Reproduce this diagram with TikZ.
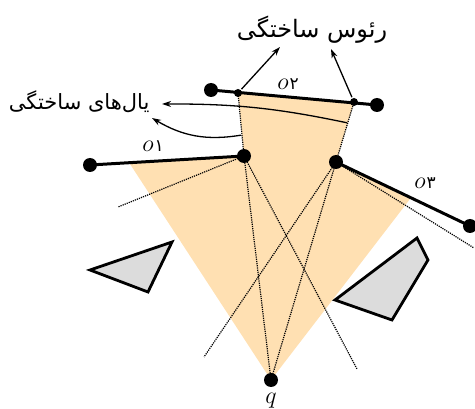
\RequirePackage{fix-cm}
\documentclass[tikz,border=0pt]{standalone}
\usepackage{fontspec}
\newfontfamily\persfont[Script=Arabic]{DejaVu Sans}
\TeXXeTstate=1
\definecolor{cone}{RGB}{255,224,178}
\definecolor{obst}{RGB}{220,220,220}
\usetikzlibrary{arrows.meta}
\newcommand\olab[1]{$o$\kern1pt{\persfont\fontsize{17}{17}\selectfont #1}}

\begin{document}
\begin{tikzpicture}[x=1pt, y=-1pt, >={Stealth[length=9pt, width=6pt]}, font=\fontsize{24}{26}\selectfont,
    bigdot/.style={circle, fill, inner sep=0pt, minimum size=14pt},
    smalldot/.style={circle, fill, inner sep=0pt, minimum size=8pt},
    seg/.style={line width=3pt},
    ray/.style={densely dotted, line width=1.2pt},
    obstacle/.style={fill=obst, draw, line width=2.8pt},
    pointer/.style={->, line width=1.3pt, shorten <=1pt},
    ptext/.style={font=\persfont\fontsize{24}{26}\selectfont}]
    \useasboundingbox (0,0) rectangle (475,409);
    % Points
    \coordinate (q) at (271,380);
    \coordinate (o1a) at (90,165);
    \coordinate (o1b) at (244,156);
    \coordinate (o2a) at (211,90);
    \coordinate (o2b) at (377,105);
    \coordinate (c1) at (238,93);
    \coordinate (c2) at (354,102);
    \coordinate (o3a) at (336,162);
    \coordinate (o3b) at (470,226);
    \coordinate (s1) at (130,164);
    \coordinate (s2) at (410,199);
    % Visible region
    \fill[cone] (q) -- (s1) -- (o1b) -- (c1) -- (c2) -- (o3a) -- (s2) -- cycle;
    % Obstacles
    \draw[obstacle] (90,270) -- (172,242) -- (148,292) -- cycle;
    \draw[obstacle] (335,300) -- (417,238) -- (428,260) -- (392,320) -- cycle;
    % Rays
    \coordinate (r1) at (118,207);
    \coordinate (r2) at (357,369);
    \coordinate (r3) at (204,357);
    \coordinate (r4) at (474,248);
    \draw[ray] (o1b) -- (r1);
    \draw[ray] (o1b) -- (q);
    \draw[ray] (o1b) -- (r2);
    \draw[ray] (o3a) -- (q);
    \draw[ray] (o3a) -- (r3);
    \draw[ray] (o3a) -- (r4);
    \draw[ray] (o1b) -- (c1);
    \draw[ray] (o3a) -- (c2);
    % Segments
    \draw[seg] (o1a) -- (o1b);
    \draw[seg] (o2a) -- (o2b);
    \draw[seg] (o3a) -- (o3b);
    \foreach \p in {q, o1a, o1b, o2a, o2b, o3a, o3b}
        \node[bigdot] at (\p) {};
    \node[smalldot] (d1) at (c1) {};
    \node[smalldot] (d2) at (c2) {};
    % Labels
    \node (qlab) at (271,401) {$q$};
    \node (o1lab) at (153,146) {\olab{۱}};
    \node (o2lab) at (288,84) {\olab{۲}};
    \node (o3lab) at (425,183) {\olab{۳}};
    % Fake vertices
    \node[ptext] (vlab) at (312,30) {\beginR رئوس ساختگی\endR};
    \coordinate (v1) at (280,47);
    \coordinate (v2) at (331,49);
    \draw[pointer] (d1) -- (v1);
    \draw[pointer] (d2) -- (v2);
    % Fake edges
    \node[ptext, font=\persfont\fontsize{21}{24}\selectfont, anchor=east] (elab) at (153,102) {\beginR یال‌های ساختگی\endR};
    \coordinate (e1) at (348,123);
    \coordinate (e1t) at (162,104);
    \coordinate (e2) at (242,135);
    \coordinate (e2t) at (152,118);
    \draw[pointer] (e1) to[bend right=6] (e1t);
    \draw[pointer] (e2) to[bend left=20] (e2t);
\end{tikzpicture}
\end{document}
